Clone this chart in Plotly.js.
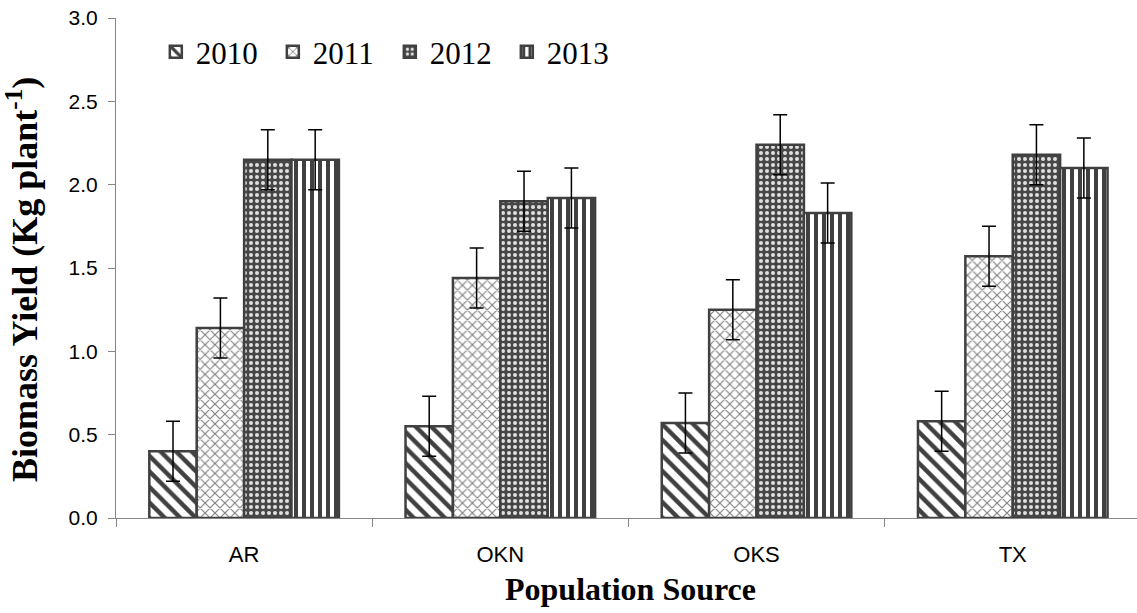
<!DOCTYPE html>
<html>
<head>
<meta charset="utf-8">
<script src="https://cdn.plot.ly/plotly-3.0.1.min.js"></script>
<style>html,body{margin:0;padding:0;background:#fff;}#chart{width:1137px;height:613px;}</style>
</head>
<body>
<div id="chart"></div>
<script>
const categories = ["AR", "OKN", "OKS", "TX"];
const years = ["2010", "2011", "2012", "2013"];
const y2010 = [0.40, 0.55, 0.57, 0.58];
const y2011 = [1.14, 1.44, 1.25, 1.57];
const y2012 = [2.15, 1.90, 2.24, 2.18];
const y2013 = [2.15, 1.92, 1.83, 2.10];
const err2010 = [0.18, 0.18, 0.18, 0.18];
const err2011 = [0.18, 0.18, 0.18, 0.18];
const err2012 = [0.18, 0.18, 0.18, 0.18];
const err2013 = [0.18, 0.18, 0.18, 0.18];
const yTicks = [0, 0.5, 1.0, 1.5, 2.0, 2.5, 3.0];
const xTitle = "Population Source";
const yTitle = "Biomass Yield (Kg plant<sup>-1</sup>)";

const values = [y2010, y2011, y2012, y2013];
const errors = [err2010, err2011, err2012, err2013];
const patterns = [
  {shape: "\\", fgcolor: "#404040", bgcolor: "#ffffff", size: 11, solidity: 0.4},
  {shape: "x", fgcolor: "#808080", bgcolor: "#ffffff", size: 7, solidity: 0.3},
  {shape: ".", fgcolor: "#e0e0e0", bgcolor: "#474747", size: 6, solidity: 0.35},
  {shape: "|", fgcolor: "#404040", bgcolor: "#ffffff", size: 8, solidity: 0.5}
];

const traces = years.map((yr, i) => ({
  type: "bar",
  name: yr,
  x: categories,
  y: values[i],
  marker: {
    color: "#ffffff",
    line: {color: "#404040", width: 2.5},
    pattern: patterns[i]
  },
  error_y: {type: "data", array: errors[i], visible: true, color: "#000000", thickness: 1.5, width: 7}
}));

const serif = "Liberation Serif, Times New Roman, serif";
const sans = "Liberation Sans, Arial, sans-serif";

const layout = {
  width: 1137, height: 613,
  margin: {l: 116, r: 0, t: 18, b: 95, pad: 0},
  paper_bgcolor: "#ffffff", plot_bgcolor: "#ffffff",
  barmode: "group",
  bargap: 0.26,
  bargroupgap: 0,
  showlegend: true,
  legend: {
    orientation: "h", x: 0.039, y: 0.932, xanchor: "left", yanchor: "middle",
    font: {family: serif, size: 31, color: "#000"},
    bgcolor: "rgba(0,0,0,0)", entrywidth: 72, entrywidthmode: "pixels", traceorder: "normal"
  },
  xaxis: {
    type: "category",
    range: [-0.5, 3.485],
    showline: true, linecolor: "#868686", linewidth: 1,
    ticks: "outside", ticklen: 8, tickcolor: "#868686", tickson: "boundaries",
    ticklabelstandoff: 17,
    showgrid: false, zeroline: false,
    tickfont: {family: sans, size: 22, color: "#000"}
  },
  yaxis: {
    range: [0, 3.0],
    tickvals: yTicks,
    ticktext: yTicks.map(v => v.toFixed(1)),
    showline: true, linecolor: "#868686", linewidth: 1,
    ticks: "outside", ticklen: 7, tickcolor: "#868686",
    ticklabelstandoff: 6,
    showgrid: false, zeroline: false,
    tickfont: {family: sans, size: 21, color: "#000"}
  },
  annotations: [
    {text: "<b>" + xTitle + "</b>", xref: "paper", yref: "paper", x: 0.504, y: -0.142,
     xanchor: "center", yanchor: "middle", showarrow: false,
     font: {family: serif, size: 32, color: "#000"}},
    {text: "<b>" + yTitle + "</b>", xref: "paper", yref: "paper", x: -0.092, y: 0.476,
     xanchor: "center", yanchor: "middle", showarrow: false, textangle: -90,
     font: {family: serif, size: 36, color: "#000"}}
  ]
};

Plotly.newPlot("chart", traces, layout, {displayModeBar: false, staticPlot: true});
</script>
</body>
</html>
